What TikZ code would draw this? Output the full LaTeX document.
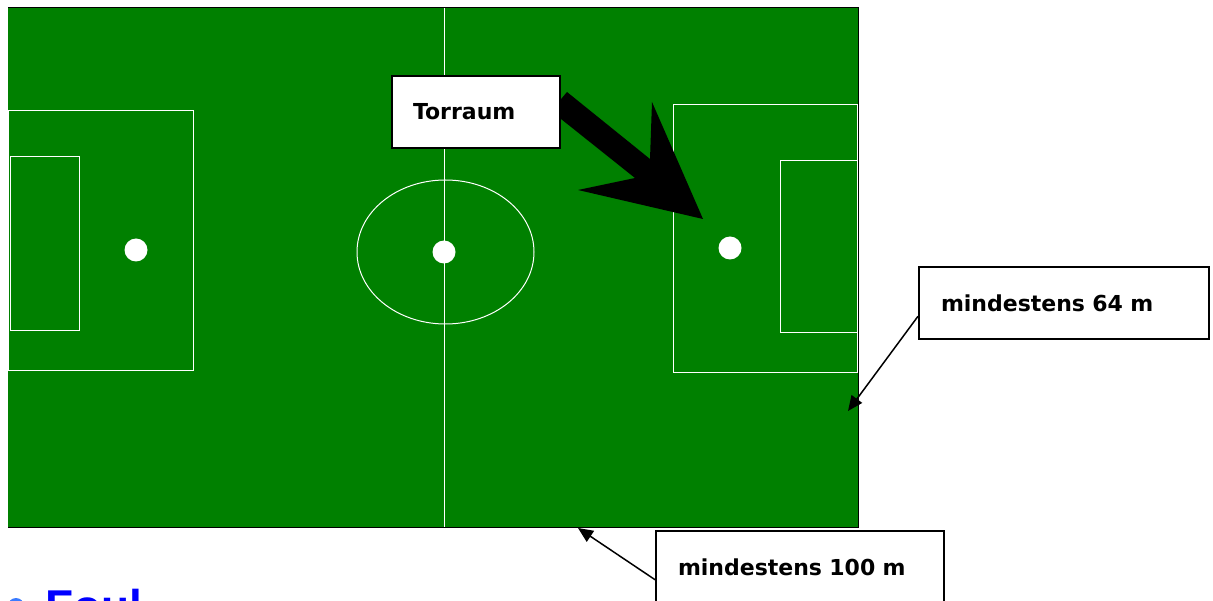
\documentclass[tikz,border=0pt]{standalone}
\usepackage{fontspec}
\newfontfamily\boxfont{DejaVu Sans}
\newfontfamily\headfont{Liberation Sans}
\usetikzlibrary{positioning,arrows.meta}
\definecolor{rasen}{HTML}{008000}
\definecolor{titelblau}{HTML}{0000FF}
\definecolor{punktblau}{HTML}{3A7BFF}
\tikzset{
  lbl/.style={rectangle, draw=black, line width=2pt, fill=white, align=left, inner xsep=21pt, minimum height=72pt, font=\boxfont\bfseries\fontsize{22}{26}\selectfont},
  ln/.style={draw=white, line width=1pt},
  spot/.style={circle, fill=white, minimum size=23pt, inner sep=0pt},
  pfeil/.style={-{Triangle[length=15pt,width=13pt]}, line width=1.5pt}
}
\begin{document}
\begin{tikzpicture}[x=1pt,y=-1pt]
	\useasboundingbox (0,0) rectangle (1213,601);
	\clip (0,0) rectangle (1213,601);
	% Spielfeld
	\fill[rasen] (8,8) rectangle (858,527);
	\draw[black, line width=1pt] (8,7.5) -- (858,7.5) -- (858,527) -- (8,527);
	\draw[ln] (444.5,8) -- (444.5,527);
	\draw[ln] (445.5,252) ellipse (88.5 and 72);
	\draw[ln] (8.5,111) rectangle (193,371);
	\draw[ln] (10,157) rectangle (79,331);
	\draw[ln] (673,105) rectangle (857,373);
	\draw[ln] (780,161) rectangle (857,333);
	\node[spot] (mitte) at (444,252) {};
	\node[spot] (elfl) at (136,250) {};
	\node[spot] (elfr) at (730,248) {};

	% dicker Pfeil
	\fill[black] (567,92) -- (650,159) -- (652,102) -- (703,219) -- (578,190) -- (635,178) -- (551,111) -- cycle;

	\node[lbl, text width=126pt] (torraum) at (476,112) {Torraum};
	\node[lbl, text width=246pt, inner xsep=22pt] (breite) at (1064,303.5) {mindestens 64 m};
	\node[lbl, text width=244pt, inner xsep=22pt] (laenge) at (800,567) {mindestens 100 m};
	%
	\coordinate (rand) at (848,411);
	\coordinate (linie) at (578,528);
	\draw[pfeil] (breite.185) -- (rand);
	\draw[pfeil] (laenge.185) -- (linie);

	% Ueberschrift unten
	\fill[punktblau] (16,606) circle (8);
	\node[anchor=base west, inner sep=0pt, text=titelblau, font=\headfont\bfseries\fontsize{46}{50}\selectfont] (foul) at (45,622) {Foul};
\end{tikzpicture}
\end{document}
